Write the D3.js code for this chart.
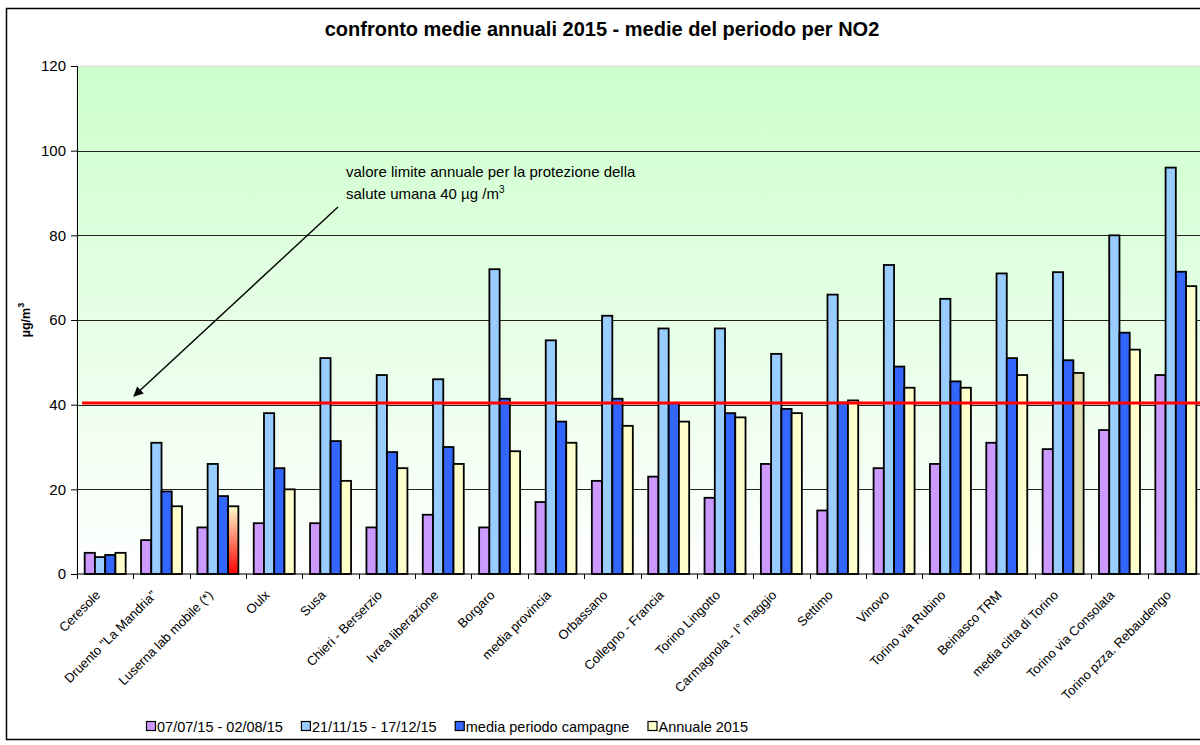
<!DOCTYPE html>
<html>
<head>
<meta charset="utf-8">
<script src="https://cdn.jsdelivr.net/npm/d3@7"></script>
<style>
  body { margin: 0; background: #fff; }
  svg { font-family: "Liberation Sans", Arial, sans-serif; }
</style>
</head>
<body>
<div id="container"></div>
<script>
/**
 * CONSTANTS AND GLOBALS
 * */
const width = 1200,
    height = 745,
    margin = { top: 66, bottom: 171, left: 77, right: -4 };

// stations along the x axis
const categories = [
    "Ceresole", "Druento \"La Mandria\"", "Luserna lab mobile (*)", "Oulx", "Susa",
    "Chieri - Berserzio", "Ivrea liberazione", "Borgaro", "media provincia", "Orbassano",
    "Collegno - Francia", "Torino Lingotto", "Carmagnola - I° maggio", "Settimo", "Vinovo",
    "Torino via Rubino", "Beinasco TRM", "media citta di Torino", "Torino via Consolata",
    "Torino pzza. Rebaudengo"
];
const seriesNames = ["07/07/15 - 02/08/15", "21/11/15 - 17/12/15", "media periodo campagne", "Annuale 2015"];
const summerValues   = [5, 8, 11, 12, 12, 11, 14, 11, 17, 22, 23, 18, 26, 15, 25, 26, 31, 29.5, 34, 47];
const winterValues   = [4, 31, 26, 38, 51, 47, 46, 72, 55.2, 61, 58, 58, 52, 66, 73, 65, 71, 71.3, 80, 96];
const campaignValues = [4.5, 19.5, 18.4, 25, 31.4, 28.8, 30, 41.4, 36, 41.4, 40.4, 38, 39, 40.5, 49, 45.5, 51, 50.5, 57, 71.4];
const annualValues   = [5, 16, 16, 20, 22, 25, 26, 29, 31, 35, 36, 37, 38, 41, 44, 44, 47, 47.5, 53, 68];
const yTicks = [0, 20, 40, 60, 80, 100, 120];
const limitValue = 40.4;

const colors = ["#CC99FF", "#99CCFF", "#3366FF", "#FFFFCC"];

const svg = d3.select("#container")
    .append("svg")
    .attr("width", width)
    .attr("height", height);

const defs = svg.append("defs");
const bg = defs.append("linearGradient").attr("id", "bg")
    .attr("x1", 0).attr("y1", 0).attr("x2", 0).attr("y2", 1);
bg.append("stop").attr("offset", "0%").attr("stop-color", "#CCFFCC");
bg.append("stop").attr("offset", "100%").attr("stop-color", "#FFFFFF");

const redGrad = defs.append("linearGradient").attr("id", "redgrad")
    .attr("x1", 0).attr("y1", 0).attr("x2", 0).attr("y2", 1);
redGrad.append("stop").attr("offset", "0%").attr("stop-color", "#FFFFCC");
redGrad.append("stop").attr("offset", "100%").attr("stop-color", "#FF0000");

defs.append("marker").attr("id", "arrow")
    .attr("viewBox", "0 0 10 10").attr("refX", 9).attr("refY", 5)
    .attr("markerWidth", 9).attr("markerHeight", 7).attr("orient", "auto-start-reverse")
    .append("path").attr("d", "M0,0 L10,5 L0,10 z").attr("fill", "#000");

// outer frame
svg.append("rect")
    .attr("x", 6.5).attr("y", 8.5)
    .attr("width", 1210).attr("height", 731)
    .attr("fill", "#fff").attr("stroke", "#000").attr("stroke-width", 1.5);

/* SCALES */
const xScale = d3.scaleBand()
    .domain(categories)
    .range([margin.left, width - margin.right])
    .padding(0);

const xInner = d3.scaleBand()
    .domain(d3.range(seriesNames.length))
    .range([0, xScale.bandwidth()])
    .paddingInner(0)
    .paddingOuter(0.75);

const yScale = d3.scaleLinear()
    .domain([0, 120])
    .range([height - margin.bottom, margin.top]);

// plot background
svg.append("rect")
    .attr("x", margin.left).attr("y", yScale(120))
    .attr("width", width - margin.right - margin.left)
    .attr("height", yScale(0) - yScale(120))
    .attr("fill", "url(#bg)")
    .attr("stroke", "#ddd");

// gridlines
svg.append("g")
    .selectAll("line")
    .data(yTicks.filter(d => d > 0 && d < 120))
    .join("line")
    .attr("x1", margin.left).attr("x2", width)
    .attr("y1", d => Math.round(yScale(d)) + 0.5)
    .attr("y2", d => Math.round(yScale(d)) + 0.5)
    .attr("stroke", "#222").attr("stroke-width", 1);

/* BARS */
const table = categories.map((c, i) => ({
    cat: c,
    values: [summerValues[i], winterValues[i], campaignValues[i], annualValues[i]]
}));

const groups = svg.append("g")
    .selectAll("g")
    .data(table)
    .join("g")
    .attr("transform", d => `translate(${xScale(d.cat)},0)`);

groups.selectAll("rect")
    .data(d => d.values.map((v, k) => ({ v, k, cat: d.cat })))
    .join("rect")
    .attr("x", d => xInner(d.k))
    .attr("y", d => yScale(d.v))
    .attr("width", xInner.bandwidth())
    .attr("height", d => yScale(0) - yScale(d.v))
    .attr("fill", d => {
        if (d.k === 3 && d.cat.startsWith("Luserna")) return "url(#redgrad)";
        if (d.k === 3 && d.cat.startsWith("media citta")) return "#DEDEB0";
        return colors[d.k];
    })
    .attr("stroke", "#000")
    .attr("stroke-width", 1.8);

/* AXES */
const yAxis = d3.axisLeft(yScale)
    .tickValues(yTicks)
    .tickSize(6)
    .tickPadding(5);
const yAxisGroup = svg.append("g")
    .attr("transform", `translate(${margin.left},0)`)
    .call(yAxis);
yAxisGroup.select(".domain").attr("stroke", "#000");
yAxisGroup.selectAll("text").attr("font-size", 15).attr("fill", "#000")
    .attr("font-family", "Liberation Sans, Arial, sans-serif");

// x axis line + boundary ticks
svg.append("line")
    .attr("x1", margin.left).attr("x2", width)
    .attr("y1", yScale(0)).attr("y2", yScale(0))
    .attr("stroke", "#000").attr("stroke-width", 1.2);
svg.append("g")
    .selectAll("line")
    .data(categories)
    .join("line")
    .attr("x1", d => Math.round(xScale(d)) + 0.5)
    .attr("x2", d => Math.round(xScale(d)) + 0.5)
    .attr("y1", yScale(0)).attr("y2", yScale(0) + 5)
    .attr("stroke", "#000");

// rotated category labels
svg.append("g")
    .selectAll("text")
    .data(categories)
    .join("text")
    .attr("transform", d => `translate(${xScale(d) + xScale.bandwidth() / 2 - 4},${yScale(0) + 22}) rotate(-45)`)
    .attr("text-anchor", "end")
    .attr("font-size", 13)
    .text(d => d);

// y label
const yLabel = svg.append("text")
    .attr("transform", `translate(30,${(yScale(0) + yScale(120)) / 2}) rotate(-90)`)
    .attr("text-anchor", "middle")
    .attr("font-size", 12.5)
    .attr("font-weight", "bold");
yLabel.append("tspan").text("µg/m");
yLabel.append("tspan").attr("dy", -6).attr("font-size", 9).text("3");

/* LIMIT LINE + ANNOTATION */
svg.append("line")
    .attr("x1", 82).attr("x2", width)
    .attr("y1", yScale(limitValue)).attr("y2", yScale(limitValue))
    .attr("stroke", "#FF0000").attr("stroke-width", 3);

svg.append("line")
    .attr("x1", 338).attr("y1", 207)
    .attr("x2", 134).attr("y2", 396)
    .attr("stroke", "#000").attr("stroke-width", 1.4)
    .attr("marker-end", "url(#arrow)");

svg.append("text")
    .attr("x", 346).attr("y", 177)
    .attr("font-size", 15)
    .text("valore limite annuale per la protezione della");
const ann2 = svg.append("text")
    .attr("x", 346).attr("y", 199)
    .attr("font-size", 15);
ann2.append("tspan").text("salute umana 40 µg /m");
ann2.append("tspan").attr("dy", -6).attr("font-size", 10).text("3");

/* TITLE */
svg.append("text")
    .attr("x", 602).attr("y", 36)
    .attr("text-anchor", "middle")
    .attr("font-size", 20)
    .attr("font-weight", "bold")
    .text("confronto medie annuali 2015 - medie del periodo per NO2");

/* LEGEND */
const legend = svg.append("g").attr("transform", "translate(146,727)");
const legendItems = seriesNames.map((name, i) => {
    const item = legend.append("g");
    item.append("rect")
        .attr("x", 0.5).attr("y", -5.5)
        .attr("width", 9).attr("height", 9)
        .attr("fill", colors[i]).attr("stroke", "#000").attr("stroke-width", 1.2);
    const t = item.append("text")
        .attr("x", 11).attr("y", 5)
        .attr("font-size", 14.5)
        .text(name);
    return { item, w: 11 + t.node().getComputedTextLength() };
});
const legendSpan = 748 - 146;
const legendGap = (legendSpan - d3.sum(legendItems, d => d.w)) / (legendItems.length - 1);
let lx = 0;
legendItems.forEach(d => {
    d.item.attr("transform", `translate(${lx},0)`);
    lx += d.w + legendGap;
});
</script>
</body>
</html>
